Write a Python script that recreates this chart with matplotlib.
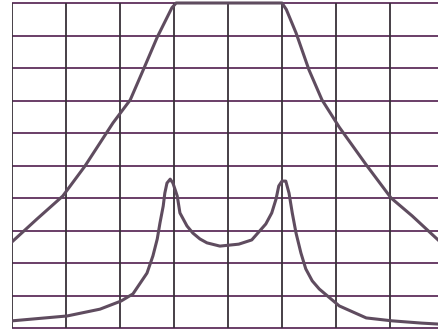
import matplotlib
matplotlib.use("Agg")
import matplotlib.pyplot as plt

# Grid in divisions: 10 vertical, ~7.9 horizontal visible
x_divs = list(range(0, 8))
y_divs = list(range(0, 11))

# Wide response (clipped at the top of the screen)
wide_x = [0.0, 0.46, 0.94, 1.35, 1.87, 2.19, 2.43, 2.69, 2.87, 2.96, 3.04,
          5.00, 5.08, 5.26, 5.50, 5.74, 6.06, 6.56, 7.02, 7.41, 7.91]
wide_y = [2.65, 3.35, 4.06, 4.98, 6.31, 7.02, 7.94, 8.95, 9.55, 9.85, 10.0,
          10.0, 9.80, 9.08, 7.94, 7.02, 6.18, 5.02, 4.00, 3.45, 2.68]

# Double-peaked response
peak_x = [0.0, 1.02, 1.63, 2.02, 2.24, 2.50, 2.61, 2.69, 2.74, 2.80,
          2.83, 2.87, 2.93, 2.98, 3.06, 3.11, 3.24, 3.35, 3.48, 3.61,
          3.85, 4.20, 4.44, 4.70, 4.81, 4.89, 4.94, 5.00, 5.07, 5.13,
          5.19, 5.26, 5.35, 5.44, 5.56, 5.69, 6.06, 6.56, 7.04, 7.59, 7.91]
peak_y = [0.22, 0.37, 0.58, 0.83, 1.05, 1.69, 2.22, 2.74, 3.23, 3.75,
          4.15, 4.46, 4.58, 4.46, 4.06, 3.54, 3.14, 2.92, 2.74, 2.62,
          2.52, 2.58, 2.71, 3.20, 3.54, 3.97, 4.37, 4.52, 4.52, 4.15,
          3.54, 2.92, 2.31, 1.82, 1.45, 1.20, 0.68, 0.31, 0.22, 0.15, 0.12]

fig = plt.figure(figsize=(4.39, 3.32), dpi=100)
ax = fig.add_axes([12 / 439, 0, 427 / 439, 1])
ax.set_xlim(0, 427 / 54)
ax.set_ylim(-4 / 32.5, 10 + 3 / 32.5)
ax.axis("off")

ax.hlines(y_divs, 0, 427 / 54, colors="#5e2f5c", linewidth=1.3, zorder=1)
ax.vlines(x_divs, 0, 10, colors="#383038", linewidth=1.3, zorder=2)

ax.plot(wide_x, wide_y, color="#5f4c5f", linewidth=2.2, zorder=3,
        solid_joinstyle="round")
ax.plot(peak_x, peak_y, color="#5f4c5f", linewidth=2.2, zorder=3,
        solid_joinstyle="round")

fig.savefig("out.png", dpi=100, facecolor="white")
